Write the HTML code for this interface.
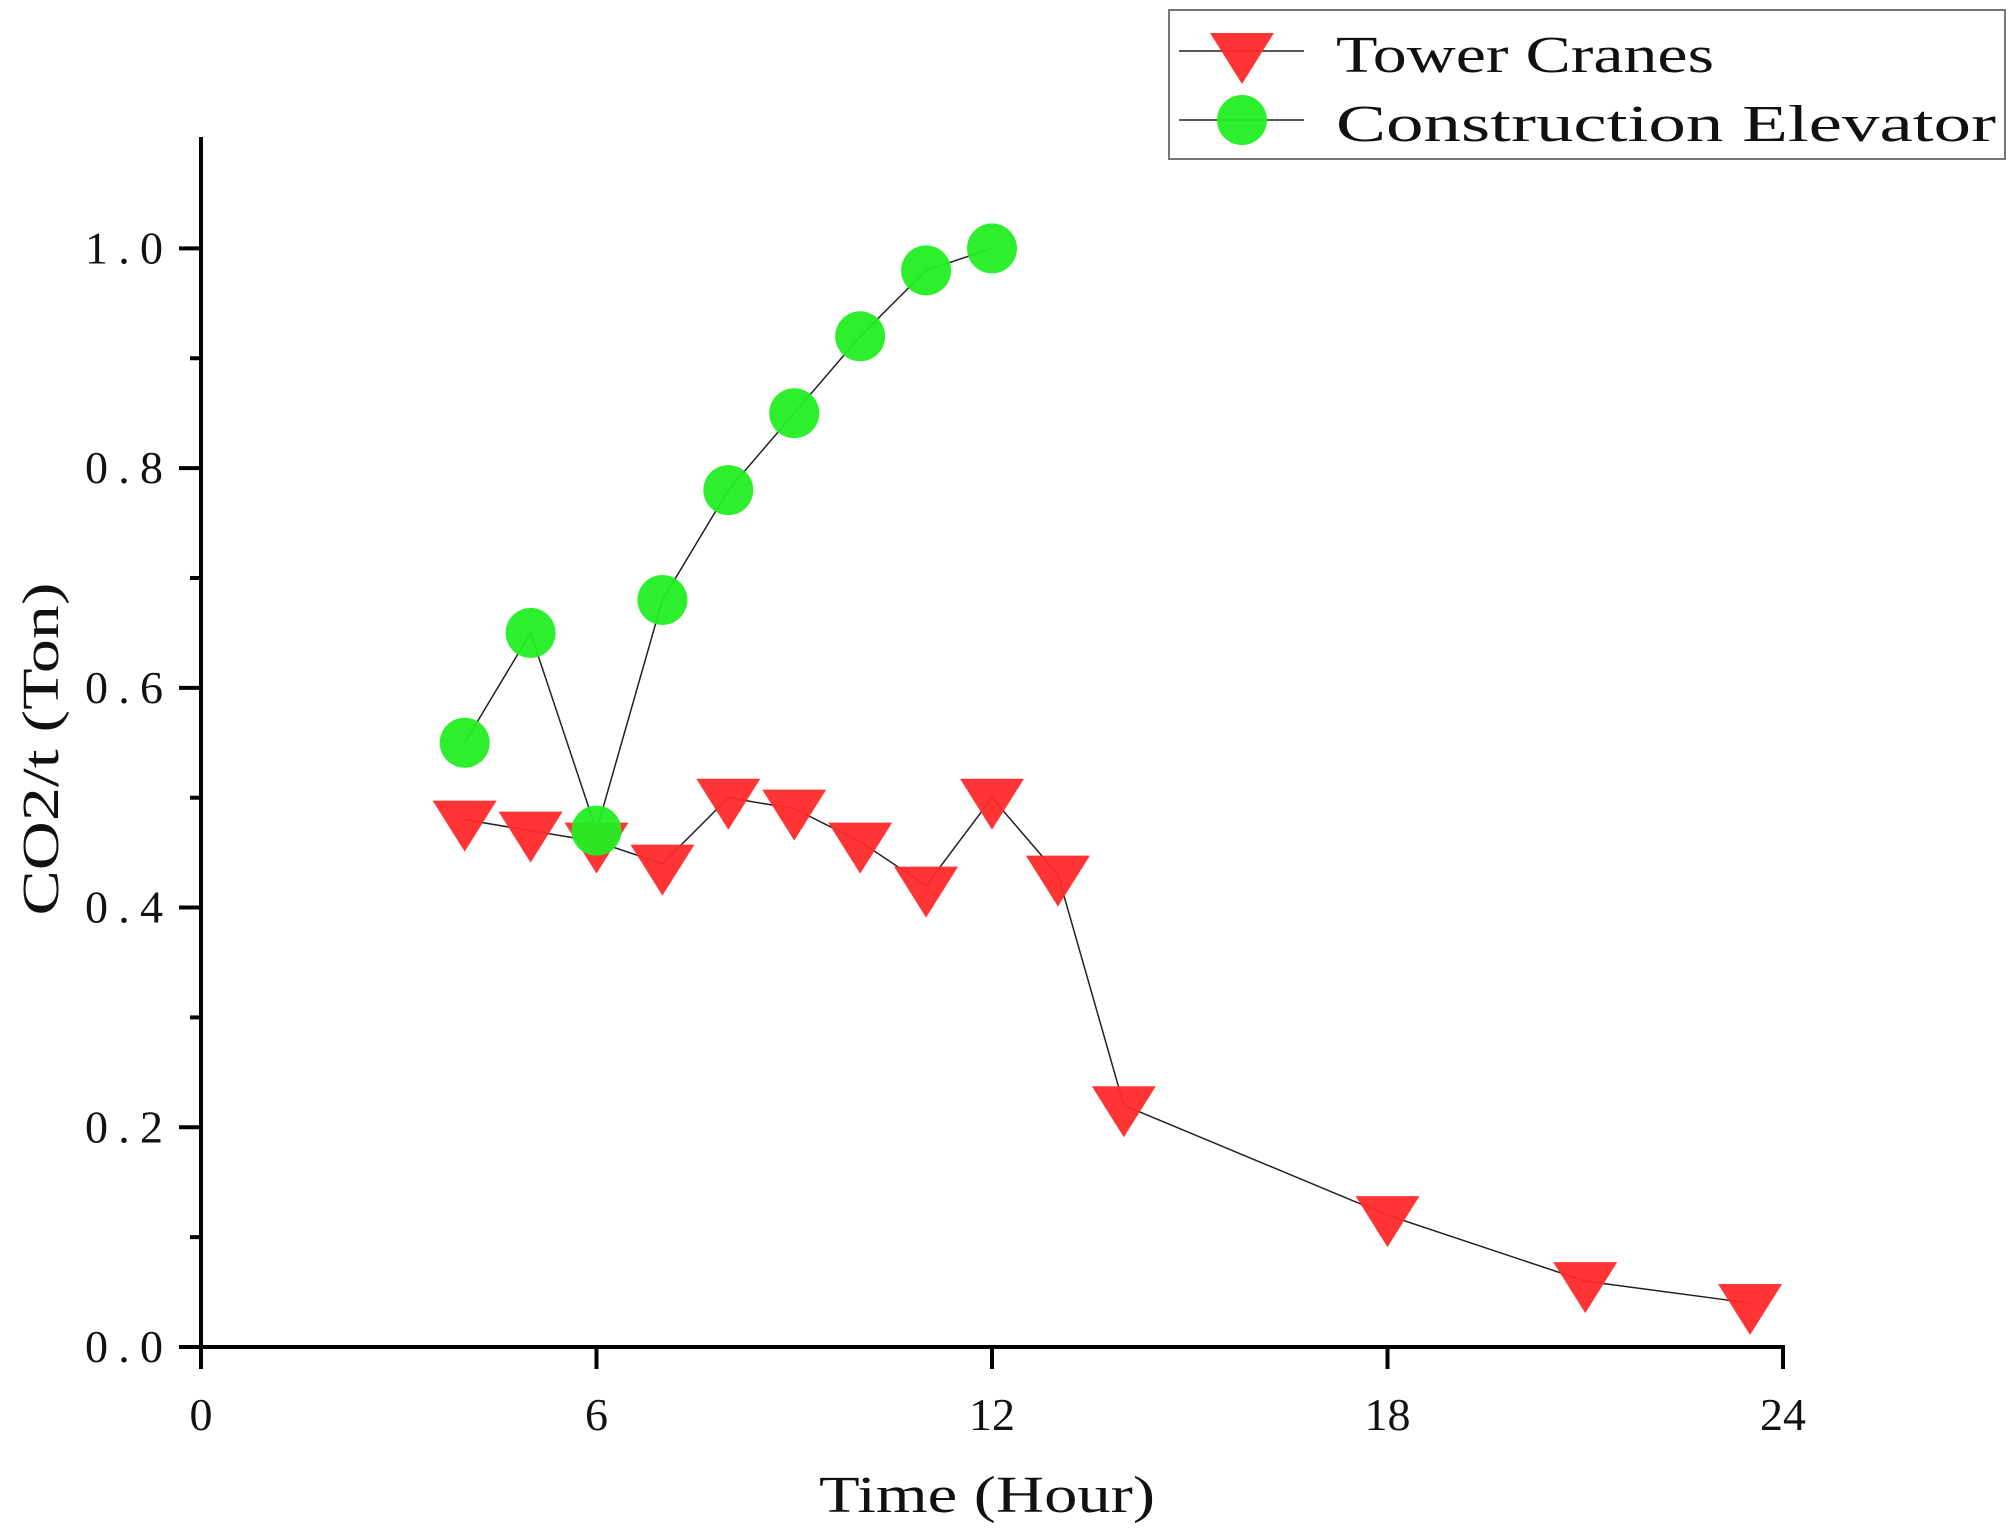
<!DOCTYPE html>
<html><head><meta charset="utf-8"><style>html,body{margin:0;padding:0;background:#fff}svg{display:block}text{font-family:"Liberation Serif",serif;fill:#111}</style></head>
<body>
<svg id="chart" width="2008" height="1539" viewBox="0 0 2008 1539" xmlns="http://www.w3.org/2000/svg">
<g id="axes"></g>
<g id="series"></g>
<text x="987" y="1512" font-size="52" text-anchor="middle" textLength="336" lengthAdjust="spacingAndGlyphs">Time (Hour)</text>
<text transform="translate(58,749) rotate(-90)" font-size="52" text-anchor="middle" textLength="333" lengthAdjust="spacingAndGlyphs">CO2/t (Ton)</text>
<g>
<rect x="1169" y="10" width="836" height="149" fill="#fff" stroke="#777" stroke-width="2"/>
<g>
<line x1="1179" y1="51" x2="1304" y2="51" stroke="#222" stroke-width="1.5"/>
<polygon points="1210,33 1274,33 1242,84" fill="#ff2a2a" opacity="0.95"/>
<text x="1336" y="72" font-size="52" textLength="378" lengthAdjust="spacingAndGlyphs">Tower Cranes</text>
</g>
<g>
<line x1="1179" y1="120" x2="1304" y2="120" stroke="#222" stroke-width="1.5"/>
<circle cx="1242" cy="120" r="25" fill="#22ee22" opacity="0.95"/>
<text x="1336" y="141" font-size="52" textLength="660" lengthAdjust="spacingAndGlyphs">Construction Elevator</text>
</g>
</g>
</svg>
<script>
const xTicks=[0,6,12,18,24];
const yTicks=[0,0.2,0.4,0.6,0.8,1.0];
const yTickLabels=["0.0","0.2","0.4","0.6","0.8","1.0"];
const yMinor=[0.1,0.3,0.5,0.7,0.9];
const towerX=[4,5,6,7,8,9,10,11,12,13,14,18,21,23.5];
const towerY=[0.48,0.47,0.46,0.44,0.50,0.49,0.46,0.42,0.50,0.43,0.22,0.12,0.06,0.04];
const elevX=[4,5,6,7,8,9,10,11,12];
const elevY=[0.55,0.65,0.47,0.68,0.78,0.85,0.92,0.98,1.0];
const NS="http://www.w3.org/2000/svg";
const X0=201,X1=1783,Y0=1347,Y1=248.4;
function sx(v){return X0+(X1-X0)*v/24;}
function sy(v){return Y0+(Y1-Y0)*v;}
function mk(tag,at,parent){const e=document.createElementNS(NS,tag);for(const k in at)e.setAttribute(k,at[k]);parent.appendChild(e);return e;}
const ax=document.getElementById('axes'),se=document.getElementById('series');
let l=mk('line',{x1:X0,y1:137,x2:X0,y2:Y0+1.5,stroke:'#000','stroke-width':4},ax);


l=mk('line',{x1:X0-1.5,y1:Y0,x2:X1+2,y2:Y0,stroke:'#000','stroke-width':4},ax);


xTicks.forEach(v=>{
 const t=mk('line',{x1:sx(v),y1:Y0,x2:sx(v),y2:Y0+22,stroke:'#000','stroke-width':4},ax);
 
 
 const tx=mk('text',{x:sx(v),y:1430,'font-size':46,'text-anchor':'middle'},ax);
 tx.textContent=String(v);
 
 
});
yTicks.forEach((v,i)=>{
 const t=mk('line',{x1:X0-22,y1:sy(v),x2:X0,y2:sy(v),stroke:'#000','stroke-width':4},ax);
 
 
 const tx=mk('text',{x:163,y:sy(v)+15,'font-size':46,'text-anchor':'end',textLength:78,lengthAdjust:'spacing'},ax);
 tx.textContent=yTickLabels[i];
 
 
});
yMinor.forEach(v=>{
 const t=mk('line',{x1:X0-11,y1:sy(v),x2:X0,y2:sy(v),stroke:'#000','stroke-width':4},ax);
 
 
});
function line(xs,ys,name){
 const p=mk('polyline',{points:xs.map((x,i)=>sx(x)+','+sy(ys[i])).join(' '),fill:'none',stroke:'#222','stroke-width':1.5},se);
 
 
}
line(towerX,towerY,'tower-cranes-line');
line(elevX,elevY,'construction-elevator-line');
towerX.forEach((x,i)=>{
 const cx=sx(x),cy=sy(towerY[i]);
 const p=mk('polygon',{points:`${cx-32},${cy-19} ${cx+32},${cy-19} ${cx},${cy+32}`,fill:'#ff2a2a',opacity:0.95},se);
 
 
});
elevX.forEach((x,i)=>{
 const c=mk('circle',{cx:sx(x),cy:sy(elevY[i]),r:25,fill:'#22ee22',opacity:0.95},se);
 
 
});
</script>
</body></html>
